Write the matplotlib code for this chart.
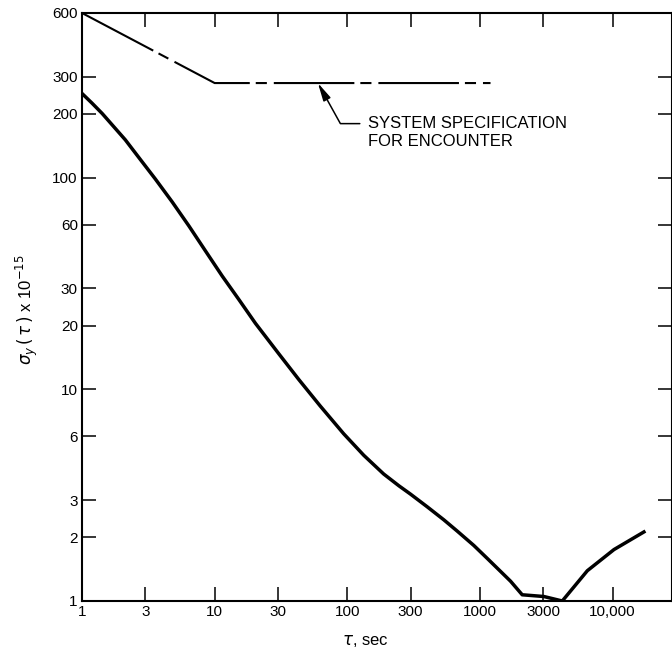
#!/usr/bin/env python3
'''
Allan deviation of the oscillator against the Encounter system specification
'''
import matplotlib
matplotlib.use('Agg')
import matplotlib.pyplot as plt

TAU = [1, 1.19, 1.42, 2.12, 2.75, 3.57, 4.78, 6.39, 8.52, 11.4, 15.2, 20.3,
       30.5, 43.2, 62.5, 93.8, 133, 188, 245, 299, 399, 533, 673, 898, 1133,
       1428, 1700, 2080, 3030, 4170, 6440, 10230, 17200]
SIGMA = [250, 225, 201, 151, 122, 98.6, 76.9, 59.2, 45.1, 34.3, 26.6, 20.5,
         14.7, 11.1, 8.34, 6.17, 4.88, 3.98, 3.5, 3.2, 2.79, 2.42, 2.14,
         1.83, 1.59, 1.38, 1.24, 1.07, 1.05, 1.0, 1.39, 1.75, 2.12]

# system specification for Encounter
SPEC_TAU = [1, 10, 1200]
SPEC_SIGMA = [600, 280, 280]
SPEC_ARROW = (60, 280)

X_TICKS = [1, 3, 10, 30, 100, 300, 1000, 3000, 10000]
X_LABELS = ['1', '3', '10', '30', '100', '300', '1000', '3000', '10,000']
Y_TICKS = [1, 2, 3, 6, 10, 20, 30, 60, 100, 200, 300, 600]
Y_LABELS = ['1', '2', '3', '6', '10', '20', '30', '60', '100', '200', '300', '600']


def main():
    '''
    draw the chart and save it to out.png
    '''
    plt.rcParams['font.family'] = ['Liberation Sans', 'DejaVu Sans']
    plt.rcParams['lines.scale_dashes'] = False

    fig = plt.figure(figsize=(6.72, 6.57), dpi=100)
    ax = fig.add_axes([82 / 672, 56 / 657, 590 / 672, 588 / 657])
    ax.set_xscale('log')
    ax.set_yscale('log')
    ax.set_xlim(1, 28000)
    ax.set_ylim(1, 600)

    ax.plot(TAU, SIGMA, color='black', linewidth=2.5, solid_joinstyle='round')
    ax.plot(SPEC_TAU, SPEC_SIGMA, color='black', linewidth=1.5,
            dashes=(58, 4.3, 8, 5))

    ax.annotate('SYSTEM SPECIFICATION\nFOR ENCOUNTER', xy=SPEC_ARROW,
                xycoords='data', xytext=(0.485, 0.797),
                textcoords='axes fraction', ha='left', va='center',
                fontsize=12, linespacing=1.3,
                arrowprops=dict(arrowstyle='-|>,head_length=0.9,head_width=0.2',
                                connectionstyle='angle,angleA=0,angleB=119,rad=0',
                                relpos=(0, 0.76), shrinkA=4, shrinkB=0,
                                color='black', linewidth=1.1))

    ax.xaxis.set_major_locator(plt.FixedLocator(X_TICKS))
    ax.xaxis.set_minor_locator(plt.NullLocator())
    ax.set_xticklabels(X_LABELS)
    ax.yaxis.set_major_locator(plt.FixedLocator(Y_TICKS))
    ax.yaxis.set_minor_locator(plt.NullLocator())
    ax.set_yticklabels(Y_LABELS)
    ax.tick_params(which='major', direction='in', length=10, width=1.1,
                   top=True, right=True, labelsize=11, pad=3)

    for spine in ax.spines.values():
        spine.set_linewidth(1.5)

    ax.set_ylabel(r'$\sigma_y\,(\,\tau\,)$ x 10$^{-15}$', fontsize=12)
    ax.yaxis.set_label_coords(-0.071, 0.495)
    ax.set_xlabel(r'$\tau$, sec', fontsize=12)
    ax.xaxis.set_label_coords(0.48, -0.055)

    fig.savefig('out.png', dpi=100)
    plt.close(fig)


if __name__ == '__main__':
    main()
